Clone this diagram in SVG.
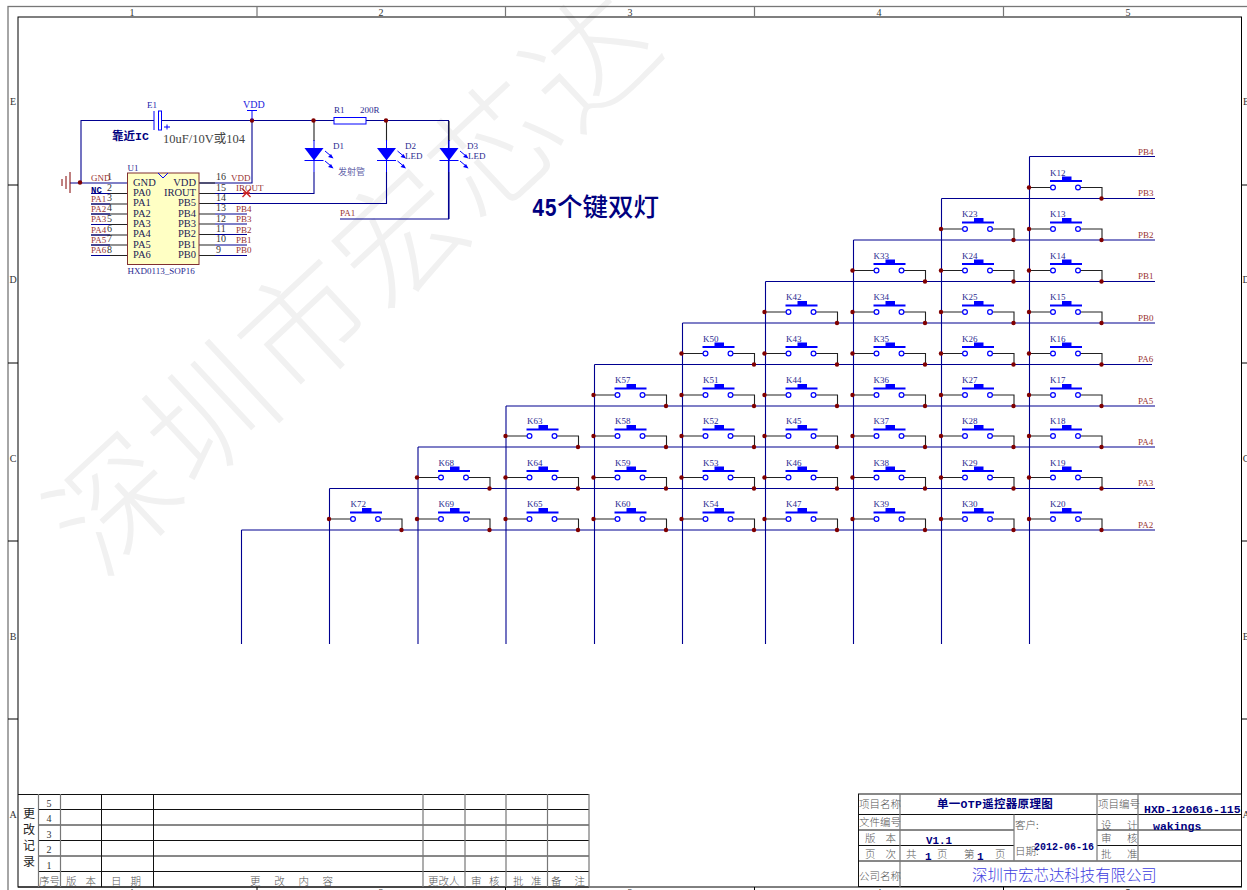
<svg xmlns="http://www.w3.org/2000/svg" width="1247" height="890" viewBox="0 0 1247 890">
<style>
text{font-family:"Liberation Serif","Noto Sans CJK SC",serif;white-space:pre}
.fr{fill:none;stroke:#000;stroke-width:1}
.fo{fill:none;stroke:#777;stroke-width:1.3}
.tl{stroke:#111;stroke-width:1;fill:none}
.tg{stroke:#777;stroke-width:1.2;fill:none}
.z{font-size:10px;fill:#333;text-anchor:middle}
.w{stroke:#000090;stroke-width:1.1;fill:none}
.bk{stroke:#222;stroke-width:1.1;fill:none}
.bl{stroke:#0000ff;stroke-width:1;fill:none}
.d{fill:#800000}
.k{font-size:9px;fill:#2a2a90}
.n{font-size:9px;fill:#993333}
.p{font-size:10.5px;fill:#222255}
.pn{font-size:10px;fill:#333}
.c{font-size:10.5px;fill:#555;font-family:"Noto Sans CJK SC",sans-serif;font-weight:300}
.cm{text-anchor:middle}
.b{font-family:"Liberation Mono","Noto Sans CJK SC",monospace;font-weight:700;fill:#000080}
</style>
<defs>
<g id="sw">
<path class="bk" d="M-23.5 0H-2.500M27.500 0H49V11"/>
<line x1="-3" x2="29" y1="-6.5" y2="-6.5" stroke="#0000ff" stroke-width="2"/>
<rect x="9" y="-11" width="9.500" height="5" fill="#0000ff"/>
<circle cx="0" cy="0" r="2.400" fill="#fff" stroke="#0000ff" stroke-width="1.2"/>
<circle cx="25" cy="0" r="2.400" fill="#fff" stroke="#0000ff" stroke-width="1.2"/>
<circle class="d" cx="-24" cy="0" r="2.200"/>
<circle class="d" cx="48.5" cy="11" r="2.200"/>
</g>
<g id="led">
<path class="bl" d="M0 -8V24M-9.500 12.500H9.500" stroke-width="1.400"/>
<path d="M-9.500 0H9.500L0 12.500Z" fill="#0000ff"/>
<path class="bl" d="M11 3L17 8M11 13L17 18"/>
<path d="M19.500 10.500L14 9L17 6ZM19.500 20.500L14 19L17 16Z" fill="#0000ff"/>
</g>
</defs>

<g id="watermark"><text x="100" y="580" transform="rotate(-43 100 580)" font-size="126" fill="#f1f1f1" style="font-family:'Noto Sans CJK SC',sans-serif;font-weight:300" letter-spacing="4">深圳市宏芯达</text></g>

<g id="frame">
<rect class="fo" x="8" y="6.5" width="1250" height="890"/>
<rect class="fr" x="18" y="17" width="1223.5" height="870"/>
<path class="tg" d="M257 7V17M505.500 7V17M754.500 7V17M1003.500 7V17"/>
<path class="fr" d="M8 185H18M8 363H18M8 541H18M8 719H18M1241.500 185H1247M1241.500 363H1247M1241.500 541H1247M1241.500 719H1247M257 887V890M505.500 887V890M754.500 887V890M1003.500 887V890"/>
<text class="z" x="132" y="15.500">1</text><text class="z" x="381" y="15.500">2</text><text class="z" x="630" y="15.500">3</text><text class="z" x="879" y="15.500">4</text><text class="z" x="1128" y="15.500">5</text>
<text class="z" x="132" y="896">1</text><text class="z" x="381" y="896">2</text><text class="z" x="630" y="896">3</text><text class="z" x="879" y="896">4</text><text class="z" x="1128" y="896">5</text>
<text class="z" x="13" y="105">E</text><text class="z" x="13" y="283">D</text><text class="z" x="13" y="462">C</text><text class="z" x="13" y="640">B</text><text class="z" x="13" y="818">A</text>
<text class="z" x="1246" y="105">E</text><text class="z" x="1246" y="283">D</text><text class="z" x="1246" y="462">C</text><text class="z" x="1246" y="640">B</text><text class="z" x="1246" y="818">A</text>
</g>

<g id="connectors">
<path class="w" d="M1029.500 156.500V644M1029.500 156.500H1155"/>
<path class="w" d="M941.500 198.500V644M941.500 198.500H1155"/>
<path class="w" d="M853.500 240V644M853.500 240H1155"/>
<path class="w" d="M765.500 281.500V644M765.500 281.500H1155"/>
<path class="w" d="M682.500 323V644M682.500 323H1155"/>
<path class="w" d="M594.500 364.500V644M594.500 364.500H1152"/>
<path class="w" d="M506 406V644M506 406H1155"/>
<path class="w" d="M418 447V644M418 447H1155"/>
<path class="w" d="M329.500 488.500V644M329.500 488.500H1155"/>
<path class="w" d="M241.500 530V644M241.500 530H1155"/>
<path class="w" d="M81 182.500V120.500H154M162 120.500H334M366 120.500H448.500V219H340"/>
<path class="w" d="M252 121V183H199"/>
<path class="w" d="M314 172V193.500H199M386.500 172V203.500H199M449 172V219"/>
<path class="bk" d="M314 121V141M386.500 121V141M449 121V141"/>
<path class="w" d="M70 183H127"/>
<path class="bk" d="M91 193.500H127M91 204H127M91 214H127M91 224.500H127M91 235H127M91 245H127M91 255.500H127M199 183H215M199 193.500H215M199 203.500H215M199 214H215M199 224H215M199 234.500H215M199 245H215M199 255.500H215"/>
<path class="w" d="M91 193.500H110M91 204H110M91 214H110M91 224.500H110M91 235H110M91 245H110M91 255.500H110M215 214H247M215 224H247M215 234.500H247M215 245H247M215 255.500H247"/>
<circle class="d" cx="252" cy="120.500" r="2.200"/><circle class="d" cx="313.500" cy="120.500" r="2.200"/><circle class="d" cx="386" cy="120.500" r="2.200"/><circle class="d" cx="80" cy="182.500" r="2.200"/>
<path d="M242.500 189L250.500 197M250.500 189L242.500 197M243 193H250" stroke="#cc2222" stroke-width="1.400" fill="none"/>
</g>

<g id="GND"><path d="M70 172V193M66 176V189M62 179V186" stroke="#800000" stroke-width="1" fill="none"/></g>
<g id="VDD"><path class="bl" d="M247 110.500H257M252 110.500V120"/><text x="243" y="108" font-size="10" fill="#2222dd">VDD</text></g>
<g id="E1"><path class="bl" d="M154 111V130"/><rect class="bl" x="158.500" y="111" width="3" height="19"/><path class="bl" d="M164 127H170M167 124.500V129.500" stroke-width="1.300"/><text class="k" x="147" y="108" style="fill:#2222aa">E1</text>
<text x="163" y="143" font-size="12.500" fill="#444">10uF/10V或104</text></g>
<g id="note1"><text class="b" x="112" y="140" font-size="11.500">靠近IC</text></g>
<g id="R1"><rect class="bl" x="334" y="117.500" width="32" height="6.500" fill="#fff"/><text class="k" x="334" y="113">R1</text><text class="k" x="360" y="113">200R</text></g>
<g id="D1"><use href="#led" x="314" y="148"/><text class="k" x="333" y="148.500">D1</text><text x="338" y="175" font-size="9" fill="#6666aa">发射管</text></g>
<g id="D2"><use href="#led" x="386.500" y="148"/><text class="k" x="405" y="148.500">D2</text><text class="k" x="405" y="158.500">LED</text></g>
<g id="D3"><use href="#led" x="449" y="148"/><text class="k" x="467" y="148.500">D3</text><text class="k" x="468" y="158.500">LED</text></g>
<g id="PA1net"><text class="n" x="340" y="216">PA1</text></g>

<g id="U1">
<rect x="127.500" y="173" width="71.500" height="91.500" fill="#ffffc4" stroke="#803030"/>
<path d="M158 173L163 178L168 173" fill="none" stroke="#0000ff"/>
<text class="k" x="127.500" y="171">U1</text><text class="k" x="127.500" y="274">HXD0113_SOP16</text>
<text class="p" x="133" y="186">GND</text><text class="p" x="133" y="196">PA0</text><text class="p" x="133" y="206">PA1</text><text class="p" x="133" y="217">PA2</text><text class="p" x="133" y="227">PA3</text><text class="p" x="133" y="237">PA4</text><text class="p" x="133" y="248">PA5</text><text class="p" x="133" y="258">PA6</text>
<g text-anchor="end"><text class="p" x="196" y="186">VDD</text><text class="p" x="196" y="196">IROUT</text><text class="p" x="196" y="206">PB5</text><text class="p" x="196" y="217">PB4</text><text class="p" x="196" y="227">PB3</text><text class="p" x="196" y="237">PB2</text><text class="p" x="196" y="248">PB1</text><text class="p" x="196" y="258">PB0</text></g>
<text class="pn" x="107" y="180">1</text><text class="pn" x="107" y="191">2</text><text class="pn" x="107" y="201">3</text><text class="pn" x="107" y="211">4</text><text class="pn" x="107" y="222">5</text><text class="pn" x="107" y="232">6</text><text class="pn" x="107" y="242">7</text><text class="pn" x="107" y="253">8</text>
<text class="pn" x="216" y="180">16</text><text class="pn" x="216" y="191">15</text><text class="pn" x="216" y="201">14</text><text class="pn" x="216" y="211">13</text><text class="pn" x="216" y="222">12</text><text class="pn" x="216" y="232">11</text><text class="pn" x="216" y="242">10</text><text class="pn" x="216" y="253">9</text>
<text class="n" x="91" y="181">GND</text><text class="b" x="91" y="193" font-size="9">NC</text><text class="n" x="91" y="202">PA1</text><text class="n" x="91" y="212">PA2</text><text class="n" x="91" y="222">PA3</text><text class="n" x="91" y="233">PA4</text><text class="n" x="91" y="243">PA5</text><text class="n" x="91" y="253">PA6</text>
<text class="n" x="231" y="181">VDD</text><text class="n" x="236" y="191">IROUT</text><text class="n" x="236" y="212">PB4</text><text class="n" x="236" y="222">PB3</text><text class="n" x="236" y="233">PB2</text><text class="n" x="236" y="243">PB1</text><text class="n" x="236" y="253">PB0</text>
</g>

<g id="busLabels">
<text class="n" x="1138" y="155">PB4</text><text class="n" x="1138" y="196">PB3</text><text class="n" x="1138" y="238">PB2</text><text class="n" x="1138" y="279">PB1</text><text class="n" x="1138" y="321">PB0</text><text class="n" x="1138" y="362">PA6</text><text class="n" x="1138" y="404">PA5</text><text class="n" x="1138" y="445">PA4</text><text class="n" x="1138" y="486">PA3</text><text class="n" x="1138" y="528">PA2</text>
</g>

<g id="title"><text transform="translate(532 216) scale(.8 1)" font-size="26" fill="#000080" style="font-family:'Liberation Mono',monospace;font-weight:700">45</text><text x="557" y="216" font-size="25.500" fill="#000080" style="font-family:'Noto Sans CJK SC',sans-serif;font-weight:500">个键双灯</text></g>

<g id="K12"><use href="#sw" x="1053" y="187.500"/><text class="k" x="1050" y="175.500">K12</text></g>
<g id="K13"><use href="#sw" x="1053" y="229"/><text class="k" x="1050" y="217">K13</text></g>
<g id="K14"><use href="#sw" x="1053" y="270.500"/><text class="k" x="1050" y="258.500">K14</text></g>
<g id="K15"><use href="#sw" x="1053" y="312"/><text class="k" x="1050" y="300">K15</text></g>
<g id="K16"><use href="#sw" x="1053" y="353.500"/><text class="k" x="1050" y="341.500">K16</text></g>
<g id="K17"><use href="#sw" x="1053" y="395"/><text class="k" x="1050" y="383">K17</text></g>
<g id="K18"><use href="#sw" x="1053" y="436"/><text class="k" x="1050" y="424">K18</text></g>
<g id="K19"><use href="#sw" x="1053" y="477.500"/><text class="k" x="1050" y="465.500">K19</text></g>
<g id="K20"><use href="#sw" x="1053" y="519"/><text class="k" x="1050" y="507">K20</text></g>

<g id="K23"><use href="#sw" x="965" y="229"/><text class="k" x="962" y="217">K23</text></g>
<g id="K24"><use href="#sw" x="965" y="270.500"/><text class="k" x="962" y="258.500">K24</text></g>
<g id="K25"><use href="#sw" x="965" y="312"/><text class="k" x="962" y="300">K25</text></g>
<g id="K26"><use href="#sw" x="965" y="353.500"/><text class="k" x="962" y="341.500">K26</text></g>
<g id="K27"><use href="#sw" x="965" y="395"/><text class="k" x="962" y="383">K27</text></g>
<g id="K28"><use href="#sw" x="965" y="436"/><text class="k" x="962" y="424">K28</text></g>
<g id="K29"><use href="#sw" x="965" y="477.500"/><text class="k" x="962" y="465.500">K29</text></g>
<g id="K30"><use href="#sw" x="965" y="519"/><text class="k" x="962" y="507">K30</text></g>

<g id="K33"><use href="#sw" x="876.500" y="270.500"/><text class="k" x="873.500" y="258.500">K33</text></g>
<g id="K34"><use href="#sw" x="876.500" y="312"/><text class="k" x="873.500" y="300">K34</text></g>
<g id="K35"><use href="#sw" x="876.500" y="353.500"/><text class="k" x="873.500" y="341.500">K35</text></g>
<g id="K36"><use href="#sw" x="876.500" y="395"/><text class="k" x="873.500" y="383">K36</text></g>
<g id="K37"><use href="#sw" x="876.500" y="436"/><text class="k" x="873.500" y="424">K37</text></g>
<g id="K38"><use href="#sw" x="876.500" y="477.500"/><text class="k" x="873.500" y="465.500">K38</text></g>
<g id="K39"><use href="#sw" x="876.500" y="519"/><text class="k" x="873.500" y="507">K39</text></g>

<g id="K42"><use href="#sw" x="788.500" y="312"/><text class="k" x="786" y="300">K42</text></g>
<g id="K43"><use href="#sw" x="788.500" y="353.500"/><text class="k" x="786" y="341.500">K43</text></g>
<g id="K44"><use href="#sw" x="788.500" y="395"/><text class="k" x="786" y="383">K44</text></g>
<g id="K45"><use href="#sw" x="788.500" y="436"/><text class="k" x="786" y="424">K45</text></g>
<g id="K46"><use href="#sw" x="788.500" y="477.500"/><text class="k" x="786" y="465.500">K46</text></g>
<g id="K47"><use href="#sw" x="788.500" y="519"/><text class="k" x="786" y="507">K47</text></g>

<g id="K50"><use href="#sw" x="705.500" y="353.500"/><text class="k" x="703" y="341.500">K50</text></g>
<g id="K51"><use href="#sw" x="705.500" y="395"/><text class="k" x="703" y="383">K51</text></g>
<g id="K52"><use href="#sw" x="705.500" y="436"/><text class="k" x="703" y="424">K52</text></g>
<g id="K53"><use href="#sw" x="705.500" y="477.500"/><text class="k" x="703" y="465.500">K53</text></g>
<g id="K54"><use href="#sw" x="705.500" y="519"/><text class="k" x="703" y="507">K54</text></g>

<g id="K57"><use href="#sw" x="617.500" y="395"/><text class="k" x="615" y="383">K57</text></g>
<g id="K58"><use href="#sw" x="617.500" y="436"/><text class="k" x="615" y="424">K58</text></g>
<g id="K59"><use href="#sw" x="617.500" y="477.500"/><text class="k" x="615" y="465.500">K59</text></g>
<g id="K60"><use href="#sw" x="617.500" y="519"/><text class="k" x="615" y="507">K60</text></g>

<g id="K63"><use href="#sw" x="529.500" y="436"/><text class="k" x="527" y="424">K63</text></g>
<g id="K64"><use href="#sw" x="529.500" y="477.500"/><text class="k" x="527" y="465.500">K64</text></g>
<g id="K65"><use href="#sw" x="529.500" y="519"/><text class="k" x="527" y="507">K65</text></g>

<g id="K68"><use href="#sw" x="441" y="477.500"/><text class="k" x="438.500" y="465.500">K68</text></g>
<g id="K69"><use href="#sw" x="441" y="519"/><text class="k" x="438.500" y="507">K69</text></g>

<g id="K72"><use href="#sw" x="353" y="519"/><text class="k" x="350.500" y="507">K72</text></g>

<g id="revTable">
<path class="tl" d="M18 794.500H589M38 809.500H589M38 825H589M38 840.500H589M38 856H589M38 871.500H589M18 887H589M101.500 794V887M153.500 794V887"/>
<path class="tg" d="M38.500 794V887M60.500 794V887M423 794V887M465 794V887M506 794V887M547.500 794V887M589 794V887"/>
<text class="pn cm" x="49" y="807">5</text><text class="pn cm" x="49" y="822">4</text><text class="pn cm" x="49" y="838">3</text><text class="pn cm" x="49" y="853">2</text><text class="pn cm" x="49" y="869">1</text>
<text class="cm" x="29" y="818" font-size="12" fill="#222">更</text><text class="cm" x="29" y="834" font-size="12" fill="#222">改</text><text class="cm" x="29" y="850" font-size="12" fill="#222">记</text><text class="cm" x="29" y="866" font-size="12" fill="#222">录</text>
<text class="c" x="39" y="885">序号</text><text class="c" x="66" y="885" letter-spacing="9">版本</text><text class="c" x="111" y="885" letter-spacing="9">日期</text><text class="c" x="250" y="885" letter-spacing="13.700">更改内容</text><text class="c" x="428" y="885">更改人</text><text class="c" x="471" y="885" letter-spacing="7.500">审核</text><text class="c" x="513" y="885" letter-spacing="7.500">批准</text><text class="c" x="551" y="885" letter-spacing="13">备注</text>
</g>

<g id="titleBlock">
<rect class="tl" x="858.500" y="794" width="383" height="92.500"/>
<path class="tl" d="M858.500 814.500H1241.500M858.500 830H1014M1097 830H1241.500M858.500 845.500H1014M1097 845.500H1241.500M858.500 861H1241.500"/>
<path class="tg" d="M900 794V887M1014 814.500V861M1097 794V861M1138 794V861"/>
<text class="c" x="859" y="808">项目名称</text><text class="c" x="859" y="826">文件编号</text><text class="c" x="865" y="842" letter-spacing="10">版本</text><text class="c" x="865" y="858" letter-spacing="10">页次</text><text class="c" x="859" y="880">公司名称</text>
<text class="b" x="937" y="808" font-size="11.500" style="letter-spacing:.3px">单一OTP遥控器原理图</text>
<text class="c" x="1098" y="808">项目编号</text>
<text class="b" x="1144" y="813" font-size="11.500">HXD-120616-115</text>
<text class="c" x="1015" y="829">客户:</text><text class="c" x="1015" y="855">日期:</text>
<text class="b" x="1034" y="850" font-size="10">2012-06-16</text>
<text class="c" x="1101" y="829">设</text><text class="c" x="1127" y="829">计</text><text class="c" x="1101" y="842">审</text><text class="c" x="1127" y="842">核</text><text class="c" x="1101" y="858">批</text><text class="c" x="1127" y="858">准</text>
<text class="b" x="1153" y="829.500" font-size="11.500">wakings</text>
<text class="b" x="926" y="844" font-size="10.800">V1.1</text>
<text class="c" x="906" y="858">共</text><text class="b" x="925" y="860" font-size="11">1</text><text class="c" x="937" y="858">页</text><text class="c" x="964" y="858">第</text><text class="b" x="977" y="860" font-size="11">1</text><text class="c" x="995" y="858">页</text>
<text x="972" y="881" font-size="15.400" fill="#3d3de0" style="font-family:'Noto Sans CJK SC',sans-serif;font-weight:300">深圳市宏芯达科技有限公司</text>
</g>
</svg>
